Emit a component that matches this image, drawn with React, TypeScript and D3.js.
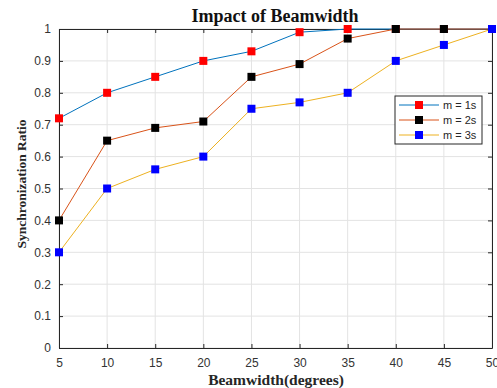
import { useEffect, useRef } from 'react';
import * as d3 from 'd3';

const beamwidths = [5, 10, 15, 20, 25, 30, 35, 40, 45, 50];
const m1Values = [0.72, 0.8, 0.85, 0.9, 0.93, 0.99, 1.0, 1.0, 1.0, 1.0];
const m2Values = [0.4, 0.65, 0.69, 0.71, 0.85, 0.89, 0.97, 1.0, 1.0, 1.0];
const m3Values = [0.3, 0.5, 0.56, 0.6, 0.75, 0.77, 0.8, 0.9, 0.95, 1.0];
const seriesNames = ['m = 1s', 'm = 2s', 'm = 3s'];
const yTicks = [0, 0.1, 0.2, 0.3, 0.4, 0.5, 0.6, 0.7, 0.8, 0.9, 1];

export default function App() {
  const svgRef = useRef<SVGSVGElement>(null);

  useEffect(() => {
    if (!svgRef.current) return;
    const svg = d3.select(svgRef.current);
    svg.selectAll('*').remove();

    const width = 497, height = 388;
    const margin = { top: 29, right: 5, bottom: 40, left: 59 };
    const innerW = width - margin.left - margin.right;
    const innerH = height - margin.top - margin.bottom;

    svg.append('rect').attr('width', width).attr('height', height).attr('fill', '#fff');

    const x = d3.scaleLinear().domain([5, 50]).range([0, innerW]);
    const y = d3.scaleLinear().domain([0, 1]).range([innerH, 0]);

    const g = svg.append('g').attr('transform', `translate(${margin.left},${margin.top})`);
    const axisColor = '#262626';
    const tickFont = '"Liberation Sans", Arial, sans-serif';

    // grid
    g.append('g').selectAll('line').data(beamwidths).enter().append('line')
      .attr('x1', d => x(d)).attr('x2', d => x(d)).attr('y1', 0).attr('y2', innerH)
      .attr('stroke', '#e3e3e3').attr('stroke-width', 1);
    g.append('g').selectAll('line').data(yTicks).enter().append('line')
      .attr('x1', 0).attr('x2', innerW).attr('y1', d => y(d)).attr('y2', d => y(d))
      .attr('stroke', '#e3e3e3').attr('stroke-width', 1);

    // axes (ticks inward, mirrored)
    const xAxis = d3.axisBottom(x).tickValues(beamwidths).tickSizeInner(-4).tickSizeOuter(0).tickPadding(10);
    const yAxis = d3.axisLeft(y).tickValues(yTicks).tickFormat(d => d3.format('~g')(d as number)).tickSizeInner(-4).tickSizeOuter(0).tickPadding(8);
    const xTop = d3.axisTop(x).tickValues(beamwidths).tickSizeInner(-4).tickSizeOuter(0).tickFormat(() => '');
    const yRight = d3.axisRight(y).tickValues(yTicks).tickSizeInner(-4).tickSizeOuter(0).tickFormat(() => '');

    const styleAxis = (sel: any) => {
      sel.selectAll('path,line').attr('stroke', axisColor);
      sel.selectAll('text').attr('fill', '#333').style('font-family', tickFont).style('font-size', '12px');
    };
    g.append('g').attr('transform', `translate(0,${innerH})`).call(xAxis).call(styleAxis);
    g.append('g').call(yAxis).call(styleAxis);
    g.append('g').call(xTop).call(styleAxis);
    g.append('g').attr('transform', `translate(${innerW},0)`).call(yRight).call(styleAxis);

    const series = [
      { values: m1Values, line: '#0072BD', marker: '#ff0000' },
      { values: m2Values, line: '#D95319', marker: '#000000' },
      { values: m3Values, line: '#EDB120', marker: '#0000ff' },
    ];
    const lineGen = d3.line<number>().x((_, i) => x(beamwidths[i])).y(d => y(d));
    const ms = 8;
    series.forEach(s => {
      g.append('path').datum(s.values).attr('d', lineGen)
        .attr('fill', 'none').attr('stroke', s.line).attr('stroke-width', 1);
      g.append('g').selectAll('rect').data(s.values).enter().append('rect')
        .attr('x', (_, i) => x(beamwidths[i]) - ms / 2)
        .attr('y', d => y(d) - ms / 2)
        .attr('width', ms).attr('height', ms)
        .attr('fill', s.marker);
    });

    // legend
    const lg = svg.append('g').attr('transform', 'translate(395,96)');
    lg.append('rect').attr('width', 87).attr('height', 48)
      .attr('fill', '#fff').attr('stroke', axisColor).attr('stroke-width', 1);
    series.forEach((s, i) => {
      const ly = 9 + i * 15;
      lg.append('line').attr('x1', 4).attr('x2', 44).attr('y1', ly).attr('y2', ly)
        .attr('stroke', s.line).attr('stroke-width', 1);
      lg.append('rect').attr('x', 24 - ms / 2).attr('y', ly - ms / 2).attr('width', ms).attr('height', ms)
        .attr('fill', s.marker);
      lg.append('text').attr('x', 48).attr('y', ly).attr('dy', '0.35em')
        .attr('fill', axisColor).style('font-family', tickFont).style('font-size', '11px')
        .text(seriesNames[i]);
    });

    // titles
    const serif = '"Liberation Serif", "Times New Roman", serif';
    svg.append('text').attr('x', 275).attr('y', 22)
      .attr('text-anchor', 'middle').style('font-family', serif).style('font-weight', 'bold')
      .style('font-size', '18px').attr('fill', '#111').text('Impact of Beamwidth');
    svg.append('text').attr('x', 276).attr('y', 385)
      .attr('text-anchor', 'middle').style('font-family', serif).style('font-weight', 'bold')
      .style('font-size', '15.5px').attr('fill', '#262626').text('Beamwidth(degrees)');
    svg.append('text').attr('transform', 'translate(26,184) rotate(-90)')
      .attr('text-anchor', 'middle').style('font-family', serif).style('font-weight', 'bold')
      .style('font-size', '13.5px').attr('fill', '#262626').text('Synchronization Ratio');
  }, []);

  return (
    <div style={{ position: 'fixed', left: 0, top: 0 }}>
      <svg ref={svgRef} width={497} height={388} style={{ display: 'block' }} />
    </div>
  );
}
